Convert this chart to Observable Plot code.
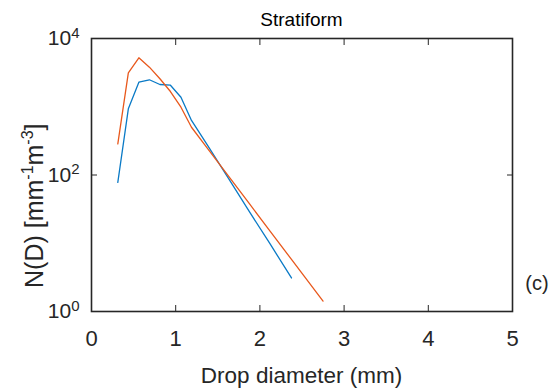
<!DOCTYPE html>
<html><head><meta charset="utf-8">
<script src="https://cdn.jsdelivr.net/npm/d3@7"></script>
<script src="https://cdn.jsdelivr.net/npm/@observablehq/plot@0.6"></script>
<style>body{margin:0;background:#fff} svg{display:block}</style>
</head><body><div id="chart"></div>
<script>
// Drop size distribution, stratiform rain
const diameter = [0.3125, 0.4375, 0.5625, 0.6875, 0.8125, 0.9375, 1.0625, 1.1875, 1.375, 1.625, 1.875, 2.125, 2.375, 2.75];
const seriesNames = ["Series 1", "Series 2"];
const nd1 = [78, 933, 2290, 2484, 2118, 2069, 1380, 630, 277, 90, 29, 9.6, 3.1];
const nd2 = [286, 3143, 5214, 3800, 2570, 1672, 985, 501, 248, 97, 38, 14.8, 5.8, 1.42];
const xTicks = [0, 1, 2, 3, 4, 5];
const yTicks = [1, 100, 10000];
const titleText = "Stratiform";
const xLabel = "Drop diameter (mm)";
const panelTag = "(c)";

const data = [];
nd1.forEach((v, i) => data.push({d: diameter[i], n: v, s: seriesNames[0]}));
nd2.forEach((v, i) => data.push({d: diameter[i], n: v, s: seriesNames[1]}));

const font = "'Liberation Sans', Arial, Helvetica, sans-serif";
const ink = "#262626";

const svg = Plot.plot({
  width: 553, height: 389,
  marginLeft: 91, marginRight: 41, marginTop: 38, marginBottom: 78,
  style: {fontFamily: font, background: "#fff", color: ink, overflow: "visible"},
  x: {domain: [0, 5]},
  y: {type: "log", domain: [1, 1e4]},
  color: {domain: seriesNames, range: ["#0a7ac6", "#e8581c"]},
  marks: [
    Plot.line(data, {x: "d", y: "n", stroke: "s", strokeWidth: 1.3}),
    Plot.frame({stroke: ink, strokeWidth: 1.6}),
    Plot.axisX({anchor: "bottom", ticks: xTicks, tickSize: -6, tickFormat: () => "", label: null, stroke: ink}),
    Plot.axisX({anchor: "top", ticks: xTicks, tickSize: -6, tickFormat: () => "", label: null, stroke: ink}),
    Plot.axisY({anchor: "left", ticks: yTicks, tickSize: -6, tickFormat: () => "", label: null, stroke: ink}),
    Plot.axisY({anchor: "right", ticks: yTicks, tickSize: -6, tickFormat: () => "", label: null, stroke: ink}),
    Plot.axisX({anchor: "bottom", ticks: xTicks, tickSize: 0, tickPadding: 19, fontSize: 22, label: null, fill: ink,
      tickFormat: d3.format("d")}),
    Plot.axisY({anchor: "left", ticks: yTicks, tickSize: 0, tickPadding: 12, fontSize: 21, label: null, fill: ink,
      tickFormat: d => "10|" + Math.round(Math.log10(d))})
  ]
});
document.getElementById("chart").appendChild(svg);

const sx = svg.scale("x");
const cx = (sx.range[0] + sx.range[1]) / 2;
const s = d3.select(svg);

// superscript exponents on y tick labels
s.selectAll("text").each(function() {
  const t = this.textContent;
  if (/^10\|\d$/.test(t)) {
    const [base, exp] = t.split("|");
    const el = d3.select(this);
    el.text("");
    el.append("tspan").text(base);
    el.append("tspan").attr("dy", "-0.5em").attr("font-size", 15).text(exp);
  }
});

s.append("text").attr("x", cx).attr("y", 26).attr("text-anchor", "middle")
  .attr("font-size", 19).attr("fill", "#000").attr("font-family", font).text(titleText);

s.append("text").attr("x", cx).attr("y", 383).attr("text-anchor", "middle")
  .attr("font-size", 22.5).attr("fill", ink).attr("font-family", font).text(xLabel);

const yl = s.append("text").attr("transform", "translate(43,288) rotate(-90)")
  .attr("text-anchor", "start").attr("font-size", 25).attr("fill", ink).attr("font-family", font);
yl.append("tspan").text("N(D) [mm");
yl.append("tspan").attr("dy", -10).attr("font-size", 16).text("-1");
yl.append("tspan").attr("dy", 10).text("m");
yl.append("tspan").attr("dy", -10).attr("font-size", 16).text("-3");
yl.append("tspan").attr("dy", 10).text("]");

s.append("text").attr("x", 537).attr("y", 290).attr("text-anchor", "middle")
  .attr("font-size", 20).attr("fill", ink).attr("font-family", font).text(panelTag);
</script>
</body></html>
